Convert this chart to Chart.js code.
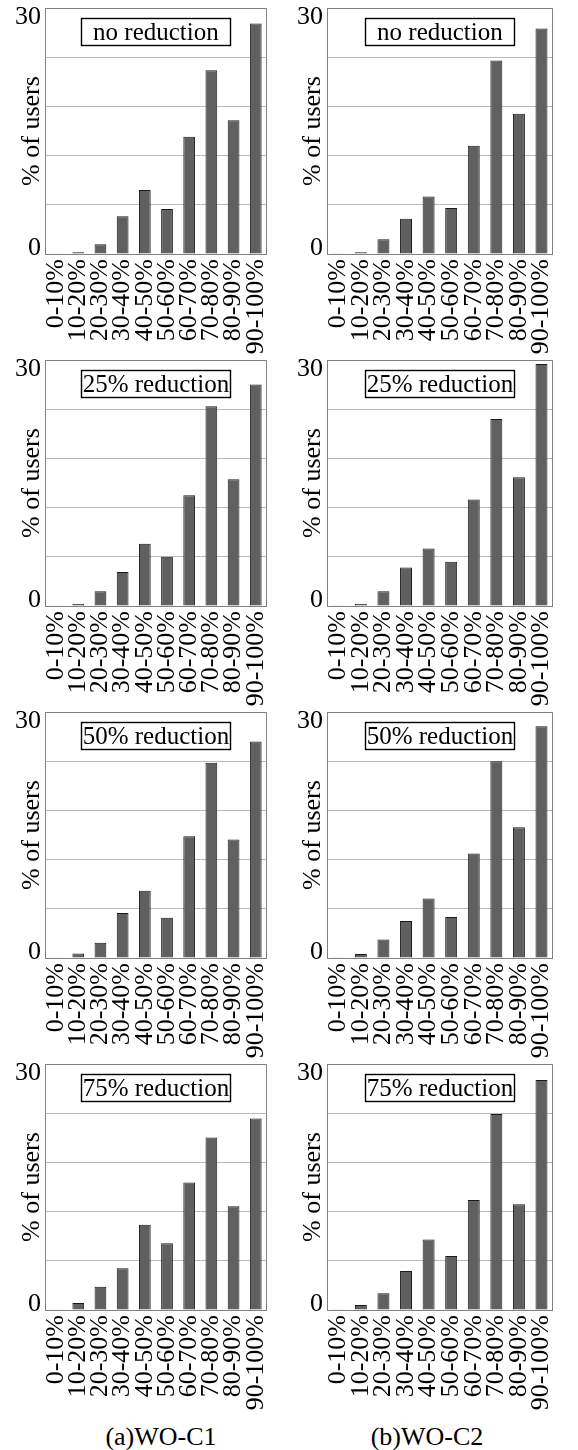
<!DOCTYPE html>
<html><head><meta charset="utf-8">
<script src="https://cdn.jsdelivr.net/npm/chart.js@4.4.1/dist/chart.umd.min.js"></script>
<style>
html,body{margin:0;padding:0;background:#fff;}
#wrap{position:relative;width:578px;height:1450px;overflow:hidden;background:#fff;}
#wrap canvas{position:absolute;}
.cap{position:absolute;top:1424px;font-family:'Liberation Serif','Times New Roman',serif;font-size:26px;line-height:26px;white-space:nowrap;transform:translateX(-50%);color:#000;}
</style></head><body><div id="wrap"></div>
<script>
// ---- data ----
const categories = ['0-10%','10-20%','20-30%','30-40%','40-50%','50-60%','60-70%','70-80%','80-90%','90-100%'];
const panelLabels = ['no reduction','25% reduction','50% reduction','75% reduction'];
const captions = ['(a)WO-C1','(b)WO-C2'];
const yTickLabels = [0, 30];
const yStep = 6;

const c1None = [0.1, 0.2, 1.2, 4.6, 7.8, 5.5, 14.3, 22.4, 16.3, 28.1];
const c2None = [0.1, 0.2, 1.8, 4.3, 7.0, 5.6, 13.2, 23.6, 17.1, 27.5];
const c1R25  = [0.1, 0.25, 1.8, 4.15, 7.6, 6.0, 13.5, 24.35, 15.45, 27.0];
const c2R25  = [0.1, 0.25, 1.8, 4.7, 7.0, 5.4, 13.0, 22.8, 15.7, 29.5];
const c1R50  = [0.1, 0.55, 1.85, 5.5, 8.2, 4.9, 14.85, 23.8, 14.45, 26.4];
const c2R50  = [0.1, 0.5, 2.25, 4.5, 7.25, 5.0, 12.75, 24.0, 15.95, 28.25];
const c1R75  = [0.1, 0.85, 2.85, 5.1, 10.4, 8.15, 15.55, 21.05, 12.65, 23.35];
const c2R75  = [0.1, 0.6, 2.05, 4.75, 8.6, 6.6, 13.4, 23.9, 12.9, 28.05];

const grid = [
  [c1None, c2None],
  [c1R25, c2R25],
  [c1R50, c2R50],
  [c1R75, c2R75]
];

// ---- layout / style ----
const FONT = "'Liberation Serif','Times New Roman',serif";
const cols = [
  {left:0,   width:292, plotLeft:45, plotRight:291, titlePad:16.4, capX:161},
  {left:292, width:286, plotLeft:35, plotRight:280, titlePad:5.4,  capX:427}
];
const rowPitch = 352, canvasH = 360, xAxisH = 106, topPad = 8;

const framePlugin = {
  id: 'frame',
  afterDatasetsDraw(chart, args, opts) {
    const ctx = chart.ctx, a = chart.chartArea;
    ctx.save();
    ctx.strokeStyle = '#808080';
    ctx.lineWidth = 1;
    ctx.beginPath();
    ctx.moveTo(a.left, Math.round(a.top) + 0.5);
    ctx.lineTo(Math.round(a.right) - 0.5, Math.round(a.top) + 0.5);
    ctx.lineTo(Math.round(a.right) - 0.5, a.bottom);
    ctx.stroke();
    const bw = 149, bh = 27;
    const cx = (a.left + a.right) / 2;
    const bx = Math.round(cx - bw / 2) + 0.5, by = Math.round(a.top + 10) + 0.5;
    ctx.fillStyle = '#fff';
    ctx.fillRect(bx, by, bw, bh);
    ctx.strokeStyle = '#000';
    ctx.lineWidth = 1.4;
    ctx.strokeRect(bx, by, bw, bh);
    ctx.fillStyle = '#000';
    ctx.font = '25px ' + FONT;
    ctx.textAlign = 'center';
    ctx.textBaseline = 'alphabetic';
    ctx.fillText(opts.label, cx, by + 21);
    ctx.restore();
  },
  afterDraw(chart) {
    const ctx = chart.ctx, a = chart.chartArea, y = chart.scales.y;
    ctx.save();
    ctx.fillStyle = '#000';
    ctx.font = '26px ' + FONT;
    ctx.textAlign = 'right';
    ctx.textBaseline = 'alphabetic';
    yTickLabels.forEach(v => {
      const py = y.getPixelForValue(v);
      const off = (v === y.max) ? 16 : 0.5;
      ctx.fillText(String(v), a.left - 4, py + off);
    });
    ctx.restore();
  }
};

const wrap = document.getElementById('wrap');
grid.forEach((row, r) => {
  row.forEach((values, c) => {
    const col = cols[c];
    const cv = document.createElement('canvas');
    cv.width = col.width; cv.height = canvasH;
    cv.style.left = col.left + 'px';
    cv.style.top = (r * rowPitch) + 'px';
    cv.style.width = col.width + 'px';
    cv.style.height = canvasH + 'px';
    wrap.appendChild(cv);
    new Chart(cv, {
      type: 'bar',
      data: {
        labels: categories,
        datasets: [{
          data: values,
          backgroundColor: '#606060',
          borderColor: '#1a1a1a',
          borderWidth: 1,
          barPercentage: 0.53,
          categoryPercentage: 1.0
        }]
      },
      options: {
        responsive: false,
        animation: false,
        devicePixelRatio: 1,
        layout: { padding: { top: topPad, right: col.width - col.plotRight, left: 0, bottom: 0 } },
        plugins: {
          legend: { display: false },
          tooltip: { enabled: false },
          frame: { label: panelLabels[r] }
        },
        scales: {
          x: {
            grid: { display: false, drawTicks: false },
            border: { display: true, color: '#808080', width: 1 },
            ticks: { font: { family: FONT, size: 26 }, color: '#000', maxRotation: 90, minRotation: 90, padding: 5, autoSkip: false },
            afterFit(s) { s.height = xAxisH; }
          },
          y: {
            min: 0, max: 30,
            grid: { color: '#bbbbbb', drawTicks: false, lineWidth: 1 },
            border: { display: true, color: '#808080', width: 1 },
            ticks: { stepSize: yStep, display: false },
            title: { display: true, text: '% of users', font: { family: FONT, size: 26 }, color: '#000', padding: { top: col.titlePad, bottom: 0 } },
            afterFit(s) { s.width = col.plotLeft; }
          }
        }
      },
      plugins: [framePlugin]
    });
  });
});
captions.forEach((t, i) => {
  const d = document.createElement('div');
  d.className = 'cap';
  d.style.left = cols[i].capX + 'px';
  d.textContent = t;
  wrap.appendChild(d);
});
</script>
</body></html>
